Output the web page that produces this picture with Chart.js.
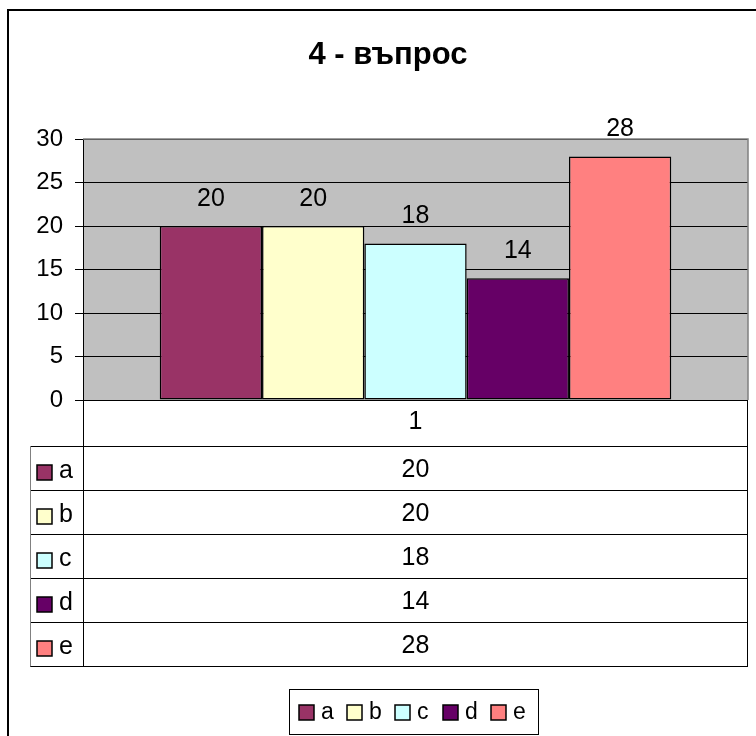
<!DOCTYPE html>
<html><head><meta charset="utf-8">
<script src="https://cdn.jsdelivr.net/npm/chart.js@4/dist/chart.umd.min.js"></script>
<style>html,body{margin:0;padding:0;background:#fff;overflow:hidden}canvas{display:block}</style>
</head><body>
<canvas id="c" width="756" height="736"></canvas>
<script>
const categories = ['1'];
const seriesNames = ['a', 'b', 'c', 'd', 'e'];
const seriesValues = [20, 20, 18, 14, 28];
const seriesColors = ['#993366', '#FFFFCC', '#CCFFFF', '#660066', '#FF8080'];
const yTickMin = 0, yTickMax = 30, yTickStep = 5;
const titleText = '4 - въпрос';
const FONT = '"Liberation Sans", Arial, sans-serif';

const datasets = seriesNames.map((n, i) => ({
  label: n,
  data: [seriesValues[i]],
  backgroundColor: seriesColors[i],
  borderColor: '#000',
  borderWidth: 1.5,
  borderSkipped: false,
  categoryPercentage: 5 / 6.5,
  barPercentage: 1
}));

const decor = {
  id: 'decor',
  beforeDraw(chart) {
    const ctx = chart.ctx, a = chart.chartArea;
    ctx.save();
    ctx.fillStyle = '#fff';
    ctx.fillRect(0, 0, chart.width, chart.height);
    ctx.strokeStyle = '#000';
    ctx.lineWidth = 2;
    ctx.beginPath();
    ctx.moveTo(8, chart.height + 2);
    ctx.lineTo(8, 10);
    ctx.lineTo(chart.width + 2, 10);
    ctx.stroke();
    ctx.fillStyle = '#C0C0C0';
    ctx.fillRect(a.left, a.top, a.right - a.left, a.bottom - a.top);
    ctx.fillStyle = '#000';
    ctx.font = 'bold 31px ' + FONT;
    ctx.textAlign = 'center';
    ctx.textBaseline = 'alphabetic';
    ctx.fillText(titleText, 388, 64);
    ctx.restore();
  },
  afterDatasetsDraw(chart) {
    const ctx = chart.ctx, a = chart.chartArea;
    ctx.save();
    ctx.strokeStyle = '#808080';
    ctx.lineWidth = 1.5;
    ctx.beginPath();
    ctx.moveTo(a.left, a.top);
    ctx.lineTo(a.right, a.top);
    ctx.lineTo(a.right, a.bottom);
    ctx.stroke();
    ctx.fillStyle = '#000';
    ctx.font = '25px ' + FONT;
    ctx.textAlign = 'center';
    ctx.textBaseline = 'alphabetic';
    chart.data.datasets.forEach((ds, i) => {
      const meta = chart.getDatasetMeta(i);
      meta.data.forEach((bar, j) => {
        ctx.fillText(String(ds.data[j]), bar.x, bar.y - 20);
      });
    });

    const xs = chart.scales.x;
    const cx = xs.getPixelForValue(0);
    const tableLeft = 30;
    const headTop = a.bottom;
    const headBottom = a.bottom + 46;
    const rowH = 44;
    const n = seriesNames.length;
    const tableBottom = headBottom + rowH * n;
    ctx.strokeStyle = '#000';
    ctx.lineWidth = 1;
    ctx.beginPath();
    ctx.moveTo(a.left + 0.5, headTop);
    ctx.lineTo(a.left + 0.5, tableBottom);
    ctx.moveTo(a.right - 0.5, headTop);
    ctx.lineTo(a.right - 0.5, tableBottom);
    for (let i = 0; i <= n; i++) {
      const y = Math.round(headBottom + rowH * i) + 0.5;
      ctx.moveTo(tableLeft, y);
      ctx.lineTo(a.right, y);
    }
    ctx.stroke();
    ctx.strokeStyle = '#808080';
    ctx.beginPath();
    ctx.moveTo(tableLeft + 0.5, headBottom);
    ctx.lineTo(tableLeft + 0.5, tableBottom + 0.5);
    ctx.stroke();

    ctx.fillStyle = '#000';
    ctx.font = '25px ' + FONT;
    ctx.textAlign = 'center';
    ctx.fillText(categories[0], cx, headTop + 29);
    for (let i = 0; i < n; i++) {
      const top = headBottom + rowH * i;
      ctx.textAlign = 'center';
      ctx.fillStyle = '#000';
      ctx.fillText(String(seriesValues[i]), cx, top + 31);
      ctx.fillStyle = seriesColors[i];
      ctx.fillRect(37, top + 19, 15, 15);
      ctx.strokeStyle = '#000';
      ctx.lineWidth = 1.5;
      ctx.strokeRect(37, top + 19, 15, 15);
      ctx.fillStyle = '#000';
      ctx.textAlign = 'left';
      ctx.fillText(seriesNames[i], 59, top + 32);
    }

    ctx.strokeStyle = '#000';
    ctx.lineWidth = 1;
    ctx.strokeRect(289.5, 689.5, 249, 45);
    ctx.font = '23px ' + FONT;
    for (let i = 0; i < n; i++) {
      const x = 299 + i * 48;
      ctx.fillStyle = seriesColors[i];
      ctx.fillRect(x, 705, 15, 15);
      ctx.lineWidth = 1.5;
      ctx.strokeRect(x, 705, 15, 15);
      ctx.fillStyle = '#000';
      ctx.textAlign = 'left';
      ctx.fillText(seriesNames[i], x + 22, 719);
    }
    ctx.restore();
  }
};

new Chart(document.getElementById('c'), {
  type: 'bar',
  data: { labels: categories, datasets },
  options: {
    responsive: false,
    animation: false,
    devicePixelRatio: 1,
    layout: { padding: { left: 0, top: 139, right: 8, bottom: 336 } },
    plugins: { legend: { display: false }, title: { display: false }, tooltip: { enabled: false } },
    scales: {
      x: { display: false },
      y: {
        min: yTickMin, max: yTickMax,
        ticks: { stepSize: yTickStep, color: '#000', font: { family: FONT, size: 24 }, padding: 12 },
        grid: { color: '#000', lineWidth: 1, tickLength: 8, drawTicks: true },
        border: { display: true, color: '#000', width: 1 },
        afterFit(s) { s.width = 83; }
      }
    }
  },
  plugins: [decor]
});
</script>
</body></html>
